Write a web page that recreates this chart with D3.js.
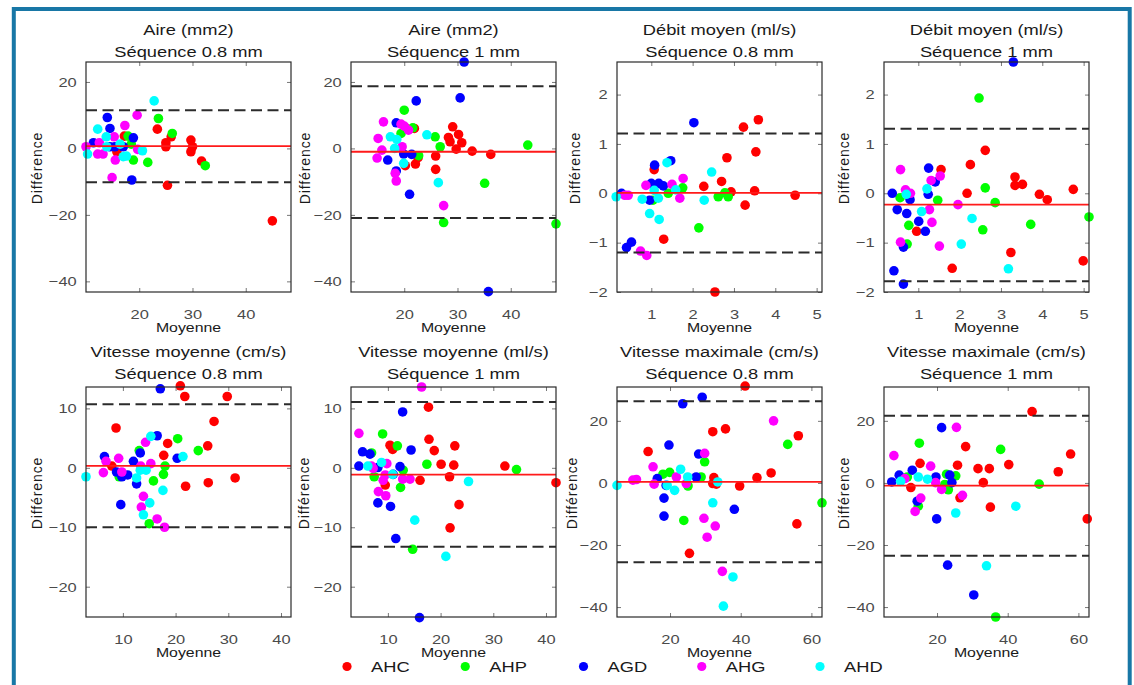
<!DOCTYPE html>
<html>
<head>
<meta charset="utf-8">
<script src="https://cdn.jsdelivr.net/npm/d3@7"></script>
<style>
  body { margin: 0; background: #fff; }
  svg { display: block; }
  text { font-family: "Liberation Sans", Arial, Helvetica, sans-serif; }
</style>
</head>
<body>
<svg id="fig" width="1134" height="685"></svg>
<script>
// ---- Series (legend order) ----
const seriesNames  = ["AHC", "AHP", "AGD", "AHG", "AHD"];
const seriesColors = ["#ff0000", "#00ff00", "#0000ff", "#ff00ff", "#00ffff"];

// ---- Panel titles ----
const panelTitles = [
  ["Aire (mm2)", "Séquence 0.8 mm"],
  ["Aire (mm2)", "Séquence 1 mm"],
  ["Débit moyen (ml/s)", "Séquence 0.8 mm"],
  ["Débit moyen (ml/s)", "Séquence 1 mm"],
  ["Vitesse moyenne (cm/s)", "Séquence 0.8 mm"],
  ["Vitesse moyenne (ml/s)", "Séquence 1 mm"],
  ["Vitesse maximale (cm/s)", "Séquence 0.8 mm"],
  ["Vitesse maximale (cm/s)", "Séquence 1 mm"]
];

// ---- Axis limits and tick values ----
const xLimits = [[10, 48.5], [10, 48.5], [0.17, 5.13], [0.17, 5.13], [3, 41.9], [3, 41.9], [5, 63], [5, 63]];
const yLimits = [[-43.2, 26], [-43.2, 26], [-2, 2.66], [-2, 2.66], [-25.1, 13.6], [-25.1, 13.6], [-43.2, 30.9], [-43.2, 30.9]];
const xTicks  = [[20, 30, 40], [20, 30, 40], [1, 2, 3, 4, 5], [1, 2, 3, 4, 5], [10, 20, 30, 40], [10, 20, 30, 40], [20, 40, 60], [20, 40, 60]];
const yTicks  = [[-40, -20, 0, 20], [-40, -20, 0, 20], [-2, -1, 0, 1, 2], [-2, -1, 0, 1, 2], [-20, -10, 0, 10], [-20, -10, 0, 10], [-40, -20, 0, 20], [-40, -20, 0, 20]];

// ---- Bland-Altman statistics: mean difference and limits of agreement ----
const meanDiff = [0.7, -1.0, 0.01, -0.23, 0.34, -1.13, 0.32, -0.9];
const upperLoA = [11.5, 18.7, 1.21, 1.31, 10.7, 11.07, 26.3, 21.6];
const lowerLoA = [-10.2, -20.9, -1.2, -1.78, -10.0, -13.28, -25.6, -23.5];

// ---- Points [moyenne, différence], one list per series (AHC, AHP, AGD, AHG, AHD) ----
const aire08 = [
  [[45, -21.8], [23.4, 5.8], [25, 1.7], [25, 0.5], [25.3, -11.1], [26, 3.5], [29.7, 2.5], [29.7, -1], [30, 0.5], [31.7, -3.8], [15.8, -1], [17.2, 3.7]],
  [[23.6, 9], [26.2, 4.5], [32.4, -5.2], [21.6, -4.2], [18.9, -3.5], [17.9, 3.7], [18.5, 1.3]],
  [[14, 9.3], [14.5, 6], [11.4, 1.7], [18.9, 3.2], [18.6, -9.5], [14.5, 0.5], [15.4, 0.5], [17, 0.5]],
  [[10, 0.5], [12.5, 1.7], [12.2, -1.7], [13.2, -1.7], [15.3, 3.5], [17.3, 6.9], [19.6, 10], [14.9, -8.8], [15.5, -3.5], [19.7, -0.3]],
  [[22.8, 14.3], [12.2, 5.8], [10.3, -1.7], [13.8, 3.5], [16.4, 1.3], [17, -2.5], [17.6, -2.3], [20.6, -0.7], [13.9, 0.5]]
];
const aire1 = [
  [[20.3, 6.1], [21.9, 6], [20.2, -5.2], [22.1, -4.7], [22.6, -2.8], [25.9, -2.3], [25.9, -6.3], [28.3, 3.3], [28.6, 2], [29.1, 6.5], [30.2, 4.2], [30.8, 1.7], [29.75, -0.2], [32.75, -0.8], [36.25, -1.8]],
  [[20, 11.5], [19.4, 4.5], [21.6, 6.2], [22.7, -2.2], [25.8, 3.5], [26.75, 0.5], [27.4, -22.3], [35.1, -10.5], [43.2, 1], [48.5, -22.7]],
  [[31.25, 26], [30.5, 15.2], [22.25, 14.3], [18.5, 7.7], [21, -13.8], [16.9, -3.5], [18.5, -6.8], [21.4, -1.8], [35.8, -43.1], [19.9, -1.7]],
  [[16.1, 8], [15.1, 3], [14.9, -2.9], [15.8, -0.5], [19.4, 7.3], [20, 6.7], [20.8, 5.5], [19.6, 0.5], [18.3, -7.5], [18.5, -9.8], [27.4, -17.2]],
  [[17.4, 3.5], [18.6, 2.7], [18.2, 0], [19.9, -4.5], [24.25, 4.1], [26.4, -10.3]]
];
const debit08 = [
  [[3.59, 1.49], [3.23, 1.34], [3.53, 0.84], [2.83, 0.72], [2.7, 0.24], [2.27, 0.14], [2.93, 0.03], [3.5, 0.05], [3.27, -0.24], [4.48, -0.04], [1.3, -0.93], [2.54, -2.0], [1.07, 0.48]],
  [[2.15, -0.7], [2.62, -0.07], [2.86, -0.07], [2.78, 0.01], [1.41, 0], [1.76, 0.11], [1.04, -0.14]],
  [[2.03, 1.43], [1.08, 0.57], [1.47, 0.66], [0.4, -1.1], [0.52, -0.99], [1.0, 0.2], [1.18, 0.2], [1.29, 0.15], [0.96, -0.14], [0.28, 0]],
  [[0.74, -1.17], [0.89, -1.26], [1.77, 0.3], [1.69, -0.1], [0.87, 0.16], [1.5, 0.18], [0.36, -0.04], [0.44, -0.04]],
  [[0.15, -0.07], [1.38, 0.62], [2.46, 0.43], [0.96, -0.41], [1.19, -0.53], [2.28, -0.14], [0.78, -0.12], [1.17, -0.1], [1.07, 0.06], [1.59, 0.07]]
];
const debit1 = [
  [[2.62, 0.87], [2.26, 0.58], [2.18, 0], [1.55, 0.48], [3.34, 0.33], [3.34, 0.16], [3.52, 0.18], [3.93, -0.02], [4.12, -0.13], [4.75, 0.08], [3.24, -1.2], [1.82, -1.52], [4.99, -1.37], [0.96, -0.77]],
  [[2.47, 1.93], [2.62, 0.11], [2.86, -0.19], [2.56, -0.74], [3.72, -0.63], [5.13, -0.48], [1.47, -0.14], [0.77, -0.65], [0.73, -1.03], [0.56, -0.09]],
  [[3.3, 2.66], [1.25, 0.51], [0.37, 0], [0.49, -0.33], [0.72, -0.41], [1.01, -0.57], [1.17, -0.77], [0.64, -1.09], [0.41, -1.57], [0.64, -1.84], [1.24, -0.02], [0.8, -0.13], [1.41, 0.23]],
  [[0.57, 0.48], [0.57, -0.99], [0.69, 0.07], [0.81, 0], [1.31, 0.26], [1.53, 0.35], [1.27, -0.33], [1.33, -0.59], [1.96, -0.23], [1.51, -1.07]],
  [[0.71, -0.02], [1.21, 0.09], [1.08, -0.37], [2.3, -0.51], [2.04, -1.03], [3.18, -1.53]]
];
const vmoy08 = [
  [[20.9, 13.8], [21.75, 12], [29.8, 12], [27.3, 7.8], [8.7, 6.7], [18.5, 4.1], [26.1, 3.7], [17.75, 2.1], [7.9, 0.3], [21.9, -3.1], [26.2, -2.5], [31.3, -1.7]],
  [[20.4, 4.9], [24.3, 2.9], [13.1, 2.9], [18, 0.3], [17.7, -1.1], [15.8, -2.2], [15, -9.4], [9.3, -1.5]],
  [[17.1, 13.3], [16.5, 5.4], [13.3, 2.5], [6.5, 1.9], [12.0, 1.1], [10.9, -1.2], [9.8, -1.5], [8.8, -0.7], [12.6, -2.7], [9.6, -6.2], [20.3, 1.6]],
  [[6.8, 1.1], [6.3, -0.8], [9.2, 1.6], [9.8, -0.7], [14.3, 4.3], [13.4, 0.3], [15.3, 0.7], [13.9, -4.8], [13.5, -6.6], [16.5, -8.6], [17.9, -10]],
  [[3, -1.5], [15.3, 5.3], [21.4, 1.9], [13.3, -0.4], [14.4, -0.4], [12.6, -1.7], [15.1, -5.9], [13.9, -7.9], [17.6, -3.8]]
];
const vmoy1 = [
  [[17.7, 10.2], [17.8, 4.8], [18.8, 2.9], [22.7, 3.7], [10.4, 3.8], [10.9, 3.1], [20.1, 0.6], [22.5, 0.45], [32.2, 0.3], [21.7, -1.5], [16.1, -2.1], [9.5, -2.9], [23.5, -6.2], [21.8, -10.1], [41.9, -2.5]],
  [[9, 5.7], [11.8, 3.7], [6.9, 2.5], [17.4, 0.6], [34.4, -0.3], [7.4, -1.5], [12.4, -3.3], [14.7, -13.7], [12.9, -0.4]],
  [[12.8, 9.4], [5.2, 2.7], [6.6, 2.3], [14.4, 3], [4.5, 0.3], [8.1, 0.05], [12.3, 0.2], [8.1, -5.9], [10.5, -6.5], [11.5, -11.9], [16, -25.2], [11, -1.1]],
  [[16.4, 13.6], [4.5, 5.8], [6.9, 0.3], [9.8, 0.7], [9.1, -2.1], [9.5, -1.2], [8.2, -4], [9.6, -4.7], [12.8, -1.9], [14.2, -1.9], [7.2, -0.1]],
  [[6.2, 0.3], [8.8, 0.9], [10.9, -1.1], [25.3, -2.3], [15.1, -8.8], [21, -14.9]]
];
const vmax08 = [
  [[41.25, 31.2], [32.1, 16.5], [35.7, 17.4], [13.8, 10.1], [56.3, 15.2], [48.6, 3.2], [44.6, 1.7], [39.7, -1], [32.4, 1.7], [33.1, -0.4], [25.5, -22.7], [55.9, -13.2], [32.1, -0.2]],
  [[53.3, 12.4], [29.8, 6.8], [18, 2.8], [19.9, 3.4], [25.1, -1], [28.8, 1.9], [23.9, -12.1], [63, -6.4]],
  [[23.6, 25.5], [29.1, 27.6], [19.7, 12.2], [28.1, 9.3], [16.4, 1.4], [27.4, 1.9], [18.9, -0.8], [18.3, -4.9], [18.3, -10.7], [38.2, -8.5]],
  [[49.3, 20], [29.8, 9.5], [15.2, 5.2], [9.5, 0.9], [10.5, 1.1], [15.5, -0.4], [21.8, 1.9], [24.6, -0.2], [29.6, -11.4], [32.8, -13.9], [30.5, -17.5], [34.8, -28.5]],
  [[5, -0.8], [23, 4.4], [19.2, -0.8], [21.3, -2.4], [25, 1.9], [32.1, -6.4], [33.5, 0.3], [37.8, -30.3], [35.1, -39.7]]
];
const vmax1 = [
  [[46.9, 23], [57.8, 9.3], [54.3, 3.6], [40.3, 5.9], [28.1, 11.7], [25.8, 5.7], [31.6, 4.6], [34.8, 4.6], [33.1, 0.1], [35.1, -7.8], [26.5, -4.8], [15.2, 6.3], [12.6, -1.5], [62.5, -11.6]],
  [[15, 12.8], [38, 10.8], [48.9, -0.4], [25.3, 2.3], [22.7, 2.8], [22.2, -0.5], [23.2, -2.2], [11.6, 1.9], [14.7, -7.5], [36.6, -43.2]],
  [[21.3, 17.8], [13, 4.1], [9.3, 2.5], [7.2, 0.3], [19.7, 1.9], [23.6, 2.5], [24.2, 0.1], [14.4, -5.9], [19.9, -11.6], [23, -26.5], [30.4, -36.1]],
  [[7.8, 8.8], [25.5, 17.9], [18.2, 5.4], [10.9, 1.4], [19.6, 0.1], [21.3, -2.1], [15.4, -4.9], [13.8, -9.2], [27.2, -4]],
  [[9.7, 0.5], [14.7, 1.9], [17.3, 1.2], [25.3, -9.7], [34, -26.7], [42.3, -7.5]]
];
const panelPoints = [aire08, aire1, debit08, debit1, vmoy08, vmoy1, vmax08, vmax1];

// ---- Layout ----
const SX = 1.22;                       // horizontal text stretch of the figure
const colLeft = [86, 351, 617, 884];
const rowTop = [62, 387];
const boxW = 205, boxH = 230;
const titleBase = [[35, 57], [357, 378.5]];
const ylabOffset = [44, 41, 37, 35, 44, 42, 40.5, 35.5];
const tickFmt = d3.format("");

const svg = d3.select("#fig");

// outer frame
svg.append("rect")
  .attr("x", 13.8).attr("y", 9).attr("width", 1115.9).attr("height", 700)
  .attr("fill", "none").attr("stroke", "#1877a6").attr("stroke-width", 4);

function stretchedText(g, x, y, str, size, anchor, fill) {
  return g.append("text")
    .attr("transform", `translate(${x},${y}) scale(${SX},1)`)
    .attr("text-anchor", anchor)
    .attr("font-size", size)
    .attr("fill", fill)
    .text(str);
}

panelPoints.forEach((pts, i) => {
  const col = i % 4, row = Math.floor(i / 4);
  const left = colLeft[col], top = rowTop[row];
  const x = d3.scaleLinear().domain(xLimits[i]).range([0, boxW]);
  const y = d3.scaleLinear().domain(yLimits[i]).range([boxH, 0]);
  const g = svg.append("g").attr("transform", `translate(${left},${top})`);

  // axes with inward ticks (left/bottom labelled, right/top plain)
  const axL = g.append("g").call(d3.axisLeft(y).tickValues(yTicks[i]).tickFormat(tickFmt)
    .tickSizeInner(-4).tickSizeOuter(0).tickPadding(7.6));
  const axB = g.append("g").attr("transform", `translate(0,${boxH})`)
    .call(d3.axisBottom(x).tickValues(xTicks[i]).tickFormat(tickFmt)
      .tickSizeInner(-4).tickSizeOuter(0).tickPadding(17.5));
  const axR = g.append("g").attr("transform", `translate(${boxW},0)`)
    .call(d3.axisRight(y).tickValues(yTicks[i]).tickSizeInner(-4).tickSizeOuter(0).tickFormat(""));
  const axT = g.append("g")
    .call(d3.axisTop(x).tickValues(xTicks[i]).tickSizeInner(-4).tickSizeOuter(0).tickFormat(""));
  [axL, axB, axR, axT].forEach(a => {
    a.select(".domain").remove();
    a.selectAll(".tick line").attr("stroke", "#777").attr("stroke-width", 1);
    a.selectAll(".tick text")
      .attr("font-size", 13.5)
      .attr("font-family", "\"Liberation Sans\", Arial, sans-serif")
      .attr("fill", "#4a4a4a");
  });
  axL.selectAll(".tick text").attr("transform", `scale(${SX},1)`);
  axB.selectAll(".tick text").attr("transform", `scale(${SX},1)`);

  // points, one group per series
  pts.forEach((list, s) => {
    g.append("g").selectAll("circle").data(list).join("circle")
      .attr("cx", d => x(d[0]))
      .attr("cy", d => y(d[1]))
      .attr("r", 4.8)
      .attr("fill", seriesColors[s]);
  });

  // limits of agreement (dashed) and mean difference (red)
  [upperLoA[i], lowerLoA[i]].forEach(v => {
    g.append("line")
      .attr("x1", 0).attr("x2", boxW)
      .attr("y1", y(v)).attr("y2", y(v))
      .attr("stroke", "#2b2b2b").attr("stroke-width", 2)
      .attr("stroke-dasharray", "11,5.5");
  });
  g.append("line")
    .attr("x1", 0).attr("x2", boxW)
    .attr("y1", y(meanDiff[i])).attr("y2", y(meanDiff[i]))
    .attr("stroke", "#ff1a1a").attr("stroke-width", 1.8);

  // axes box
  g.append("rect")
    .attr("width", boxW).attr("height", boxH)
    .attr("fill", "none").attr("stroke", "#2a2a2a").attr("stroke-width", 1.2);

  // titles
  stretchedText(svg, left + boxW / 2, titleBase[row][0], panelTitles[i][0], 15, "middle", "#1a1a1a");
  stretchedText(svg, left + boxW / 2, titleBase[row][1], panelTitles[i][1], 15, "middle", "#1a1a1a");

  // x label
  stretchedText(g, boxW / 2, boxH + 39.5, "Moyenne", 13, "middle", "#1a1a1a");

  // y label
  g.append("text")
    .attr("transform", `translate(${-ylabOffset[i]},${boxH / 2 - 9}) rotate(-90)`)
    .attr("text-anchor", "middle")
    .attr("font-size", 14)
    .attr("letter-spacing", "0.9px")
    .attr("fill", "#1a1a1a")
    .text("Différence");
});

// legend
const lx = d3.scalePoint().domain(seriesNames).range([347, 820]);
const legend = svg.append("g");
seriesNames.forEach((name, s) => {
  legend.append("circle")
    .attr("cx", lx(name)).attr("cy", 666.5).attr("r", 4.6)
    .attr("fill", seriesColors[s]);
  stretchedText(legend, lx(name) + 24, 672, name, 15, "start", "#1a1a1a");
});
</script>
</body>
</html>
